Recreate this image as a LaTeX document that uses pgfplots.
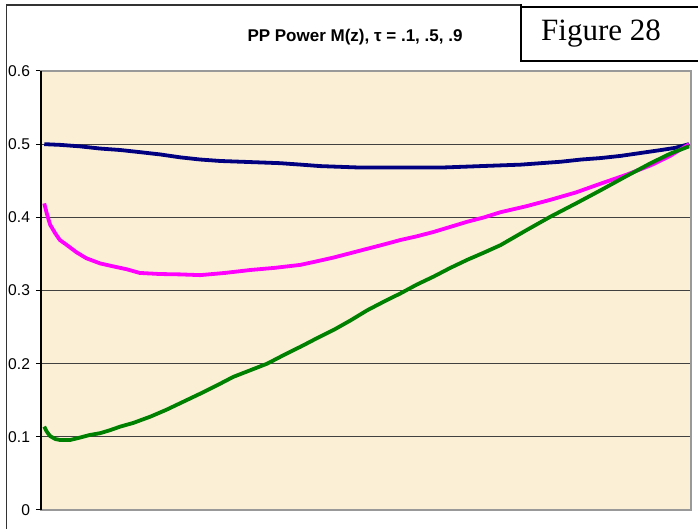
\documentclass[border=0pt]{standalone}
\usepackage{pgfplots}
\pgfplotsset{compat=1.18}
\usepackage{fontspec}
\setmainfont{Liberation Sans}
\newfontfamily\seriffont{Liberation Serif}
\definecolor{bgbeige}{RGB}{251,240,214}
\definecolor{navyline}{RGB}{0,0,128}
\definecolor{magline}{RGB}{255,0,255}
\definecolor{greenline}{RGB}{0,128,0}
\begin{document}
\begin{tikzpicture}
\useasboundingbox (0,0) rectangle (349pt,264.5pt);
\draw[black!80, line width=0.7pt] (3.3pt,-5pt) -- (3.3pt,262pt) -- (360pt,262pt);
\fill[white] (260.5pt,234pt) rectangle (360pt,270pt);
\draw[black, line width=0.6pt] (260.5pt,262.5pt) -- (260.5pt,234pt) -- (360pt,234pt);
\draw[black, line width=0.6pt] (260.5pt,261pt) -- (360pt,261pt);
\node[font=\seriffont\fontsize{15.5}{18}\selectfont] at (300.5pt,247.5pt) {Figure 28};
\node[font=\bfseries\fontsize{8.5}{10}\selectfont] at (177.5pt,246pt) {PP Power M(z), τ = .1, .5, .9};
\begin{axis}[
  at={(20.5pt,9.5pt)}, anchor=south west,
  width=325pt, height=219.5pt, scale only axis,
  xmin=0, xmax=100, ymin=0, ymax=0.6,
  xtick=\empty,
  ytick={0,0.1,0.2,0.3,0.4,0.5,0.6},
  yticklabels={0,0.1,0.2,0.3,0.4,0.5,0.6},
  ytick pos=left,
  ytick align=outside, major tick length=2.5pt,
  ytick style={black, line width=0.5pt},
  yticklabel style={font=\fontsize{7.8}{9.4}\selectfont, xshift=0.5pt},
  /pgf/number format/assume math mode=true,
  ymajorgrids, grid style={black!75, line width=0.5pt},
  axis line style={draw=black!40, line width=0.8pt},
  axis background/.style={fill=bgbeige},
  clip=false,
]
\addplot[navyline, line width=1.9pt] coordinates {
(0.5,0.500) (3.0,0.499) (6.0,0.497) (9.1,0.494) (12.2,0.492) (15.3,0.489) (18.3,0.486)
(21.4,0.482) (24.5,0.479) (27.6,0.477) (30.7,0.476) (33.8,0.475)
(36.8,0.474) (40.0,0.472) (43.0,0.470) (46.1,0.469) (49.2,0.468) (55.3,0.468) (61.5,0.468) (64.6,0.469) (67.6,0.470)
(70.7,0.471) (73.8,0.472) (76.9,0.474) (80.0,0.476) (83.1,0.479) (86.1,0.481) (89.2,0.484) (92.3,0.488) (95.4,0.492) (97.6,0.495) (99.7,0.500)};
\addplot[magline, line width=1.9pt] coordinates {
(0.5,0.419) (0.9,0.405) (1.4,0.390) (2.2,0.378) (2.9,0.369) (4.0,0.362)
(5.5,0.352) (7.0,0.344) (9.1,0.337) (11.1,0.333) (13.2,0.329) (15.2,0.324)
(18.3,0.3225) (21.4,0.322) (24.5,0.321) (28.3,0.324) (32.2,0.328) (36.0,0.331) (39.9,0.335)
(42.5,0.340) (45.0,0.345) (47.6,0.351) (50.2,0.357) (52.8,0.363) (55.3,0.369) (57.8,0.374) (60.4,0.380) (63.0,0.387) (65.6,0.394) (68.2,0.400) (70.7,0.407)
(74.6,0.415) (78.4,0.424) (82.3,0.434) (86.1,0.446) (90.0,0.458) (93.8,0.471) (96.8,0.484) (99.7,0.500)};
\addplot[greenline, line width=1.9pt] coordinates {
(0.5,0.114) (0.9,0.107) (1.4,0.101) (2.2,0.097) (2.9,0.0957) (4.5,0.0957)
(6.0,0.099) (7.5,0.1025) (9.1,0.105) (10.6,0.109) (12.2,0.114) (14.2,0.119)
(16.8,0.1275) (19.3,0.137) (21.9,0.148) (24.5,0.159) (27.0,0.170) (29.6,0.182) (32.2,0.191) (34.8,0.200) (37.4,0.212) (39.9,0.223)
(42.5,0.235) (45.0,0.246) (47.6,0.259) (50.2,0.273) (52.8,0.285) (55.3,0.296) (57.8,0.308) (60.4,0.319) (63.0,0.331) (65.6,0.342) (68.2,0.352) (70.7,0.362)
(74.6,0.382) (78.4,0.401) (82.3,0.419) (86.1,0.437) (90.0,0.456) (93.8,0.474) (96.8,0.487) (99.7,0.497)};
\draw[black, line width=0.6pt] (rel axis cs:0,0) -- (rel axis cs:0,1);
\end{axis}
\end{tikzpicture}
\end{document}
